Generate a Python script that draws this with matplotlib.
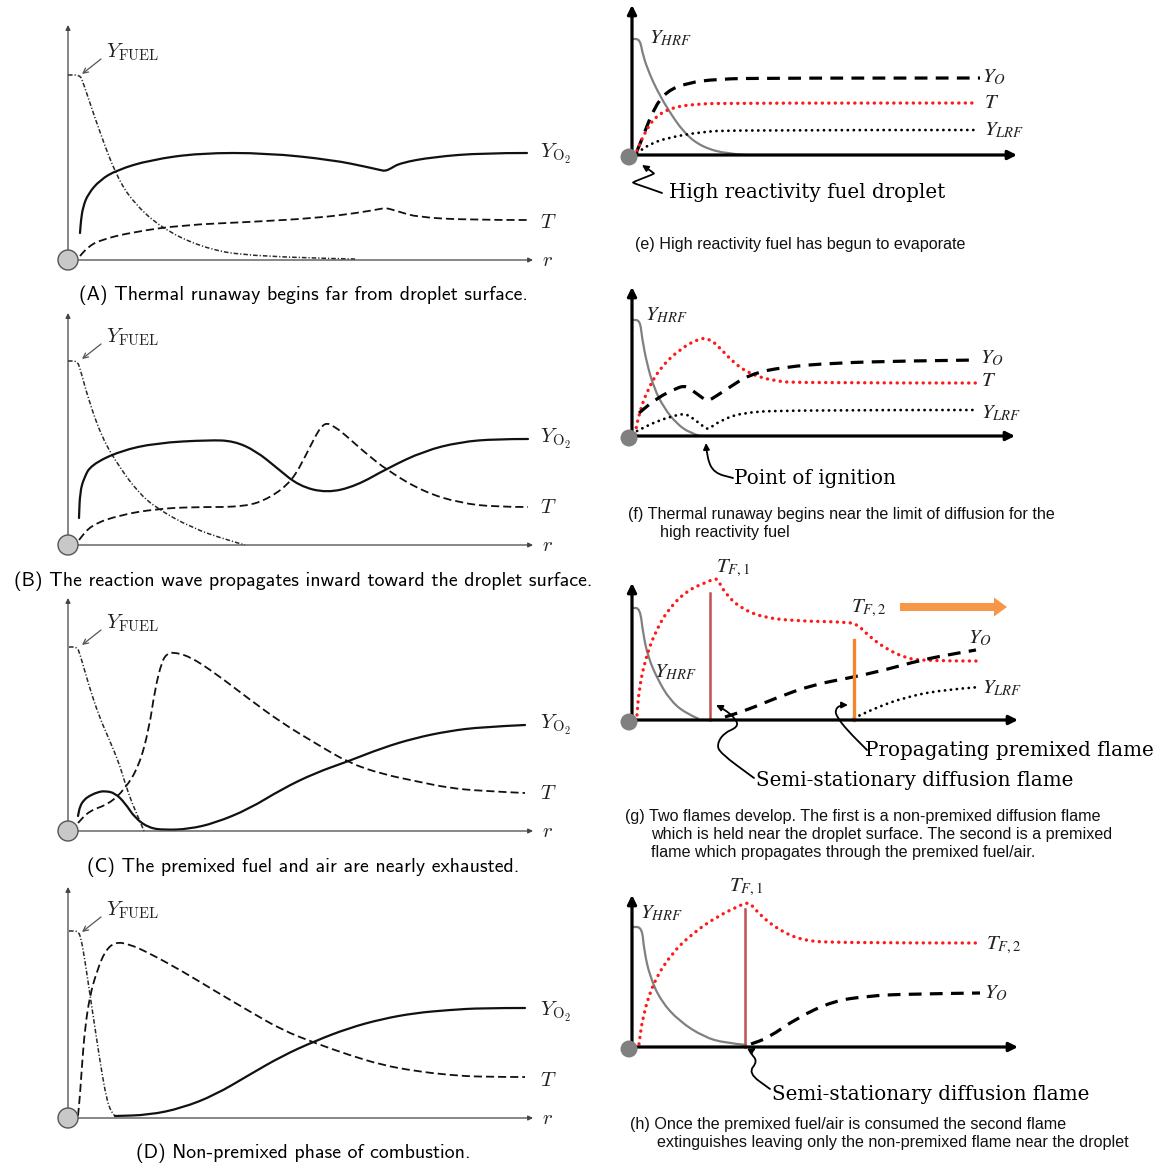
import matplotlib
matplotlib.use("Agg")
import matplotlib.pyplot as plt
from matplotlib.patches import Circle, FancyArrowPatch, PathPatch
from matplotlib.path import Path

W = H = 1164

# ---------------- left column: (A)-(D), radial profiles ----------------
a_fuel_r = [0, 12, 15, 32, 49, 65, 92, 132, 182, 287]
a_fuel_y = [185, 185, 178, 127, 83, 58, 33, 13, 3, 1]
a_o2_r = [12, 13, 15, 20, 32, 49, 82, 132, 199, 265, 299, 312, 317, 322, 332, 365, 415, 459]
a_o2_y = [27, 40, 53, 66, 80, 90, 100, 107, 107, 100, 93, 90, 89, 91, 97, 103, 107, 107]
a_t_r = [12, 20, 32, 65, 115, 182, 249, 289, 312, 317, 322, 332, 349, 399, 459]
a_t_y = [4, 13, 20, 28, 35, 38, 42, 47, 51, 52, 51, 48, 43, 40, 40]

b_fuel_r = [0, 9, 12, 20, 34, 52, 70, 88, 124, 159, 177]
b_fuel_y = [184, 184, 177, 147, 107, 77, 53, 37, 17, 5, 0]
b_o2_r = [11, 12, 16, 23, 52, 88, 141, 166, 188, 209, 231, 259, 288, 320, 356, 392, 428, 460]
b_o2_y = [27, 53, 67, 80, 94, 102, 105, 104, 94, 77, 59, 52, 59, 77, 94, 103, 106, 106]
b_t_r = [11, 23, 52, 88, 124, 177, 202, 224, 238, 249, 254, 259, 265, 274, 295, 320, 356, 392, 428, 460]
b_t_y = [5, 20, 30, 36, 38, 38, 47, 64, 90, 112, 119, 122, 119, 113, 94, 74, 53, 42, 38, 38]

c_fuel_r = [1, 9, 12, 21, 31, 41, 51, 57, 64, 71, 76]
c_fuel_y = [184, 184, 177, 145, 115, 92, 68, 48, 28, 12, 0]
c_o2_r = [10, 12, 16, 21, 30, 37, 47, 57, 67, 81, 97, 121, 147, 181, 214, 247, 281, 314, 347, 381, 414, 457]
c_o2_y = [15, 25, 31, 35, 39, 40, 38, 28, 13, 3, 1, 2, 8, 22, 42, 58, 70, 83, 93, 100, 104, 106]
c_t_r = [10, 21, 41, 57, 71, 81, 87, 94, 99, 104, 121, 147, 181, 214, 247, 281, 314, 347, 381, 414, 457]
c_t_y = [8, 20, 27, 42, 65, 102, 142, 170, 177, 179, 175, 158, 132, 108, 88, 68, 57, 50, 43, 40, 38]

d_fuel_r = [1, 10, 13, 17, 22, 27, 32, 37, 42, 47]
d_fuel_y = [187, 187, 180, 157, 123, 90, 57, 27, 7, 2]
d_t_r = [10, 12, 14, 17, 22, 29, 37, 47, 61, 81, 114, 147, 181, 214, 247, 281, 314, 347, 381, 414, 457]
d_t_y = [2, 23, 53, 90, 123, 147, 167, 176, 174, 165, 147, 127, 107, 88, 75, 63, 53, 47, 43, 41, 41]
d_o2_r = [47, 81, 114, 147, 181, 214, 247, 281, 314, 347, 381, 414, 457]
d_o2_y = [2, 3, 10, 23, 43, 62, 77, 90, 99, 105, 108, 110, 110]

left_captions = [
    "(A) Thermal runaway begins far from droplet surface.",
    "(B) The reaction wave propagates inward toward the droplet surface.",
    "(C) The premixed fuel and air are nearly exhausted.",
    "(D) Non-premixed phase of combustion.",
]

# ---------------- right column: (e)-(h), dual-fuel droplet ----------------
e_hrf_r = [0, 8, 11, 18, 25, 35, 52, 70, 95, 115]
e_hrf_y = [116, 116, 99, 80, 65, 47, 22, 8, 1, 0]
e_o_r = [5, 12, 22, 35, 55, 85, 135, 348]
e_o_y = [4, 21, 47, 64, 72, 76, 77, 77]
e_t_r = [5, 12, 22, 38, 62, 102, 345]
e_t_y = [4, 21, 37, 47, 51, 52, 52]
e_lrf_r = [5, 18, 35, 68, 102, 345]
e_lrf_y = [2, 11, 17, 23, 25, 25]

f_hrf_r = [0, 8, 10, 15, 22, 32, 45, 58, 68]
f_hrf_y = [116, 116, 98, 72, 48, 28, 12, 3, 0]
f_t_r = [3, 7, 15, 28, 48, 68, 78, 88, 102, 118, 142, 168, 345]
f_t_y = [2, 22, 45, 68, 87, 98, 97, 88, 73, 62, 55, 53, 53]
f_o_r = [7, 25, 45, 52, 57, 72, 75, 78, 92, 118, 152, 202, 268, 345]
f_o_y = [23, 38, 48, 50, 48, 37, 35, 36, 45, 62, 69, 73, 75, 76]
f_lrf_r = [5, 25, 45, 52, 58, 72, 75, 78, 88, 108, 152, 345]
f_lrf_y = [5, 15, 21, 22, 20, 9, 7, 8, 15, 23, 26, 26]

g_hrf_r = [0, 8, 11, 16, 26, 38, 53, 67]
g_hrf_y = [112, 112, 87, 63, 40, 20, 7, 1]
g_t_r = [5, 7, 13, 24, 38, 56, 75, 82, 84, 86, 93, 107, 129, 162, 217, 226, 238, 253, 271, 289, 344]
g_t_y = [5, 30, 60, 90, 113, 130, 138, 141, 141, 140, 127, 113, 103, 99, 98, 95, 83, 72, 63, 59, 59]
g_o_r = [93, 115, 144, 180, 217, 253, 289, 326, 344]
g_o_y = [3, 10, 22, 35, 42, 50, 60, 67, 70]
g_lrf_r = [222, 246, 271, 308, 348]
g_lrf_y = [2, 13, 22, 30, 33]
g_flame1 = (78, 127)
g_flame2 = (222, 80)

h_hrf_r = [0, 10, 12, 18, 29, 47, 72, 93, 115]
h_hrf_y = [120, 120, 97, 70, 46, 26, 10, 4, 2]
h_t_r = [7, 11, 22, 40, 61, 86, 111, 115, 119, 129, 147, 169, 201, 348]
h_t_y = [3, 32, 66, 94, 114, 131, 143, 144, 143, 131, 117, 107, 104, 104]
h_o_r = [119, 136, 165, 201, 237, 273, 348]
h_o_y = [3, 9, 29, 46, 51, 53, 54]
h_flame1 = (113, 138)

fig = plt.figure(figsize=(W / 100, H / 100), dpi=100)

CAP_FONT = ["cmss10", "DejaVu Sans"]
SERIF = "DejaVu Serif"
SANS = "Liberation Sans"
RED = "#ff1a1a"
CAP_SIZE = 14.3
NOTE_SIZE = 14.3
SUB_SIZE = 11.6


def smooth_path(r, y):
    """Quadratic B-spline style path through the midpoints of the given points."""
    pts = list(zip(r, y))
    if len(pts) < 3:
        return Path(pts, [Path.MOVETO] + [Path.LINETO] * (len(pts) - 1))
    mid = lambda p, q: ((p[0] + q[0]) / 2, (p[1] + q[1]) / 2)
    verts = [pts[0], mid(pts[0], pts[1])]
    codes = [Path.MOVETO, Path.LINETO]
    for i in range(1, len(pts) - 1):
        end = mid(pts[i], pts[i + 1]) if i < len(pts) - 2 else pts[-1]
        verts += [pts[i], end]
        codes += [Path.CURVE3, Path.CURVE3]
    return Path(verts, codes)


def curve(ax, r, y, **kw):
    ax.add_patch(PathPatch(smooth_path(r, y), fill=False, **kw))


def panel(ox, oy):
    """Transparent full-figure axes whose origin sits on the droplet, 1 unit = 1 px."""
    ax = fig.add_axes([0, 0, 1, 1])
    ax.set_xlim(-ox, W - ox)
    ax.set_ylim(-(H - oy), oy)
    ax.axis("off")
    ax.patch.set_alpha(0)
    return ax


def left_frame(ax, top, right=465):
    kw = dict(arrowstyle="-|>", color="#444444", lw=0.9, mutation_scale=7,
              shrinkA=0, shrinkB=0)
    ax.annotate("", xy=(0, top), xytext=(0, 0), arrowprops=kw)
    ax.annotate("", xy=(right, 0), xytext=(0, 0), arrowprops=kw)
    ax.add_patch(Circle((0, 0), 10, fc="#c8c8c8", ec="#555555", lw=1.0, zorder=6))
    ax.annotate("", xy=(14, 186), xytext=(33, 201),
                arrowprops=dict(arrowstyle="->", color="#555555", lw=0.9,
                                mutation_scale=9, shrinkA=0, shrinkB=0))
    mk = dict(math_fontfamily="cm", fontsize=15, va="center", ha="left", color="#222222")
    ax.text(38, 208, r"$Y_{\mathrm{FUEL}}$", **mk)
    ax.text(472, 106, r"$Y_{\mathrm{O}_2}$", **mk)
    ax.text(472, 38, r"$T$", **mk)
    ax.text(474, 0, r"$r$", **mk)


def left_curves(ax, fr, fy, o2r, o2y, tr, ty):
    curve(ax, fr, fy, ec="#2a2a2a", lw=1.1, ls=(0, (3, 1.3, 0.8, 1.3)))
    curve(ax, o2r, o2y, ec="#111111", lw=1.6, capstyle="round")
    curve(ax, tr, ty, ec="#111111", lw=1.3, ls=(0, (4.5, 2.2)))


def left_caption(ax, s, y):
    ax.text(235, y, s, family=CAP_FONT, fontsize=CAP_SIZE, ha="center", va="center")


def right_frame(ax, top, right=385):
    kw = dict(arrowstyle="-|>", color="black", lw=2.3, mutation_scale=13,
              shrinkA=0, shrinkB=0)
    ax.annotate("", xy=(0, top), xytext=(0, 0), arrowprops=kw)
    ax.annotate("", xy=(right, 0), xytext=(0, 0), arrowprops=kw)
    ax.add_patch(Circle((-3, -2), 8.5, fc="#808080", ec="none", zorder=6))


def rlabel(ax, x, y, s):
    ax.text(x, y, s, math_fontfamily="stix", fontsize=15, va="center", ha="left",
            color="#222222")


def hrf(ax, r, y):
    curve(ax, r, y, ec="#808080", lw=1.6)


def dashed(ax, r, y):
    curve(ax, r, y, ec="black", lw=2.3, ls=(0, (4, 2.6)))


def red_dots(ax, r, y):
    curve(ax, r, y, ec=RED, lw=2.4, ls=(0, (0.05, 1.9)), capstyle="round")


def black_dots(ax, r, y):
    curve(ax, r, y, ec="black", lw=2.0, ls=(0, (0.05, 2.1)), capstyle="round")


def note_arrow(ax, pts, head=True):
    xs, ys = zip(*pts)
    ax.add_patch(FancyArrowPatch(path=smooth_path(xs, ys),
                                 arrowstyle="-|>" if head else "-",
                                 mutation_scale=9, color="black", lw=1.3))


def sub_caption(ax, x, y, s):
    ax.text(x, y, s, family=SANS, fontsize=SUB_SIZE, va="center", color="#111111")


# ---- (A) ----
ax = panel(68, 260)
left_frame(ax, 235)
left_curves(ax, a_fuel_r, a_fuel_y, a_o2_r, a_o2_y, a_t_r, a_t_y)
left_caption(ax, left_captions[0], -35)

# ---- (B) ----
ax = panel(68, 545)
left_frame(ax, 232)
left_curves(ax, b_fuel_r, b_fuel_y, b_o2_r, b_o2_y, b_t_r, b_t_y)
left_caption(ax, left_captions[1], -36)

# ---- (C) ----
ax = panel(68, 831)
left_frame(ax, 233)
left_curves(ax, c_fuel_r, c_fuel_y, c_o2_r, c_o2_y, c_t_r, c_t_y)
left_caption(ax, left_captions[2], -36)

# ---- (D) ----
ax = panel(68, 1118)
left_frame(ax, 231)
left_curves(ax, d_fuel_r, d_fuel_y, d_o2_r, d_o2_y, d_t_r, d_t_y)
left_caption(ax, left_captions[3], -35)

# ---- (e) ----
ax = panel(632, 155)
right_frame(ax, 150)
hrf(ax, e_hrf_r, e_hrf_y)
dashed(ax, e_o_r, e_o_y)
red_dots(ax, e_t_r, e_t_y)
black_dots(ax, e_lrf_r, e_lrf_y)
rlabel(ax, 17, 117, r"$Y_{HRF}$")
rlabel(ax, 350, 78, r"$Y_O$")
rlabel(ax, 352, 53, r"$T$")
rlabel(ax, 352, 25, r"$Y_{LRF}$")
note_arrow(ax, [(30, -38), (16, -33), (1, -28), (1, -27), (22, -19), (22, -18), (10, -10)])
ax.text(37, -38, "High reactivity fuel droplet", family=SERIF, fontsize=NOTE_SIZE, va="center")
sub_caption(ax, 3, -89, "(e) High reactivity fuel has begun to evaporate")

# ---- (f) ----
ax = panel(632, 436)
right_frame(ax, 149, 383)
hrf(ax, f_hrf_r, f_hrf_y)
red_dots(ax, f_t_r, f_t_y)
dashed(ax, f_o_r, f_o_y)
black_dots(ax, f_lrf_r, f_lrf_y)
rlabel(ax, 13, 121, r"$Y_{HRF}$")
rlabel(ax, 348, 78, r"$Y_O$")
rlabel(ax, 349, 56, r"$T$")
rlabel(ax, 349, 23, r"$Y_{LRF}$")
note_arrow(ax, [(101, -42), (82, -37), (75, -22), (74, -7)])
ax.text(102, -42, "Point of ignition", family=SERIF, fontsize=NOTE_SIZE, va="center")
sub_caption(ax, -4, -78, "(f) Thermal runaway begins near the limit of diffusion for the")
sub_caption(ax, 28, -97, "high reactivity fuel")

# ---- (g) ----
ax = panel(632, 720)
right_frame(ax, 137, 386)
hrf(ax, g_hrf_r, g_hrf_y)
red_dots(ax, g_t_r, g_t_y)
dashed(ax, g_o_r, g_o_y)
black_dots(ax, g_lrf_r, g_lrf_y)
ax.plot([g_flame1[0], g_flame1[0]], [0, g_flame1[1]], color="#c0504d", lw=1.8)
ax.plot([g_flame2[0], g_flame2[0]], [0, g_flame2[1]], color="#f0882e", lw=2.4)
ax.arrow(268, 113, 107, 0, width=8, head_width=19, head_length=13,
         length_includes_head=True, fc="#f79646", ec="none")
rlabel(ax, 84, 152, r"$T_{F,1}$")
rlabel(ax, 219, 112, r"$T_{F,2}$")
rlabel(ax, 336, 82, r"$Y_O$")
rlabel(ax, 350, 32, r"$Y_{LRF}$")
rlabel(ax, 22, 48, r"$Y_{HRF}$")
note_arrow(ax, [(235, -30), (215, -10), (205, 3), (203, 10), (208, 15), (216, 15)])
note_arrow(ax, [(122, -58), (88, -33), (85, -24), (92, -13), (106, -7), (104, 1), (92, 11), (84, 15)])
ax.text(233, -30, "Propagating premixed flame", family=SERIF, fontsize=NOTE_SIZE, va="center")
ax.text(124, -60, "Semi-stationary diffusion flame", family=SERIF, fontsize=NOTE_SIZE, va="center")
sub_caption(ax, -7, -96, "(g) Two flames develop. The first is a non-premixed diffusion flame")
sub_caption(ax, 19, -114, "which is held near the droplet surface. The second is a premixed")
sub_caption(ax, 19, -133, "flame which propagates through the premixed fuel/air.")

# ---- (h) ----
ax = panel(632, 1047)
right_frame(ax, 152, 386)
hrf(ax, h_hrf_r, h_hrf_y)
red_dots(ax, h_t_r, h_t_y)
dashed(ax, h_o_r, h_o_y)
ax.plot([h_flame1[0], h_flame1[0]], [0, h_flame1[1]], color="#c0504d", lw=1.8)
rlabel(ax, 97, 160, r"$T_{F,1}$")
rlabel(ax, 354, 102, r"$T_{F,2}$")
rlabel(ax, 352, 54, r"$Y_O$")
rlabel(ax, 8, 134, r"$Y_{HRF}$")
note_arrow(ax, [(138, -42), (116, -26), (126, -14), (117, -5), (124, -1)])
ax.text(140, -47, "Semi-stationary diffusion flame", family=SERIF, fontsize=NOTE_SIZE, va="center")
sub_caption(ax, -2, -78, "(h) Once the premixed fuel/air is consumed the second flame")
sub_caption(ax, 25, -96, "extinguishes leaving only the non-premixed flame near the droplet")

fig.savefig("out.png", dpi=100, facecolor="white")
